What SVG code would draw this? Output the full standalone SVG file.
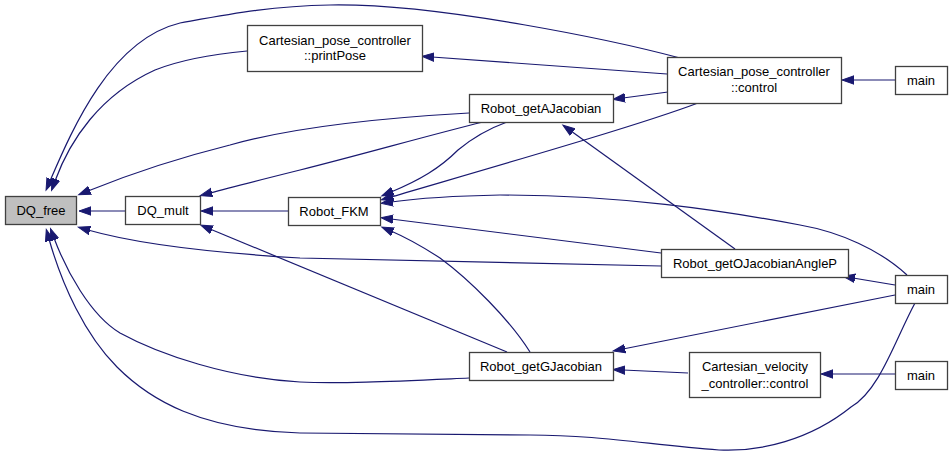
<svg xmlns="http://www.w3.org/2000/svg" width="952" height="455" viewBox="0 0 952 455">
<defs>
<marker id="ah" markerWidth="14" markerHeight="11" refX="2" refY="5" orient="auto" markerUnits="userSpaceOnUse">
<path d="M0,0.8 L12,5 L0,9.2 z" fill="#191970" stroke="#191970" stroke-width="1"/>
</marker>
<style>
.n rect{fill:#ffffff;stroke:#404040;stroke-width:1.3}
.n text{font-family:"Liberation Sans",Arial,sans-serif;font-size:13px;fill:#000;text-anchor:middle}
#edges path{fill:none;stroke:#191970;stroke-width:1.2;marker-end:url(#ah)}
</style>
</defs>
<rect width="952" height="455" fill="#ffffff"/>
<g id="edges">
<path d="M125,211 H89"/>
<path d="M247,51 C215,54 180,60 155,70 C100,95 70,140 55,181"/>
<path d="M680,58 C620,42 440,3 330,5 C270,6 230,14 180,23 C110,40 72,130 50,181"/>
<path d="M469,113 C380,118 290,128 230,145 C170,160 120,178 88,191"/>
<path d="M483,122 C430,135 360,155 300,170 C260,180 232,187 210,193"/>
<path d="M288,211 H211"/>
<path d="M661,266 C600,265 450,262 300,258 C200,252 130,242 88,230"/>
<path d="M507,352 L210,229"/>
<path d="M469,378 C400,381 340,384 300,382 C230,378 160,355 120,333 C90,315 66,270 54,238"/>
<path d="M915,303 C895,340 880,390 851,407 C810,440 760,452 719,450 C650,445 600,435 530,435 L300,433 C200,430 150,400 117,367 C85,335 62,285 49,239"/>
<path d="M667,74 L432,57"/>
<path d="M668,92 L623,98"/>
<path d="M698,103 C640,125 500,165 391,197"/>
<path d="M507,122 C485,130 470,140 458,150 C440,168 420,180 391,192"/>
<path d="M735,249 L571,131"/>
<path d="M661,253 L391,219"/>
<path d="M907,275 C880,250 840,232 800,225 C720,210 620,195 500,195 C450,196 420,198 391,202"/>
<path d="M530,352 C510,320 470,280 440,258 C420,245 405,237 391,231"/>
<path d="M895,80 L852,80"/>
<path d="M895,285 L853,278"/>
<path d="M895,295 L623,349"/>
<path d="M688,373 L623,370"/>
<path d="M895,374 L831,374"/>
</g>
<g id="DQ_free" class="n"><rect x="5.5" y="196.5" width="71" height="28" style="fill:#bfbfbf"/><text x="41" y="215">DQ_free</text></g>
<g id="DQ_mult" class="n"><rect x="125.5" y="196.5" width="75" height="28"/><text x="163" y="215">DQ_mult</text></g>
<g id="printPose" class="n"><rect x="247.5" y="25.5" width="175" height="46"/><text x="335" y="45">Cartesian_pose_controller</text><text x="335" y="60">::printPose</text></g>
<g id="Robot_getAJacobian" class="n"><rect x="469.5" y="94.5" width="144" height="28"/><text x="541" y="113">Robot_getAJacobian</text></g>
<g id="Robot_FKM" class="n"><rect x="288.5" y="197.5" width="92" height="28"/><text x="334" y="216">Robot_FKM</text></g>
<g id="pose_control" class="n"><rect x="667.5" y="57.5" width="174" height="46"/><text x="754" y="76">Cartesian_pose_controller</text><text x="754" y="92">::control</text></g>
<g id="main1" class="n"><rect x="895.5" y="66.5" width="52" height="28"/><text x="921" y="85">main</text></g>
<g id="Robot_getOJacobianAngleP" class="n"><rect x="661.5" y="249.5" width="187" height="28"/><text x="755" y="268">Robot_getOJacobianAngleP</text></g>
<g id="main2" class="n"><rect x="895.5" y="275.5" width="52" height="28"/><text x="921" y="294">main</text></g>
<g id="Robot_getGJacobian" class="n"><rect x="469.5" y="352.5" width="144" height="28"/><text x="541" y="371">Robot_getGJacobian</text></g>
<g id="velocity_control" class="n"><rect x="689.5" y="352.5" width="131" height="45"/><text x="755" y="371">Cartesian_velocity</text><text x="755" y="388">_controller::control</text></g>
<g id="main3" class="n"><rect x="895.5" y="361.5" width="52" height="28"/><text x="921" y="380">main</text></g>
</svg>
